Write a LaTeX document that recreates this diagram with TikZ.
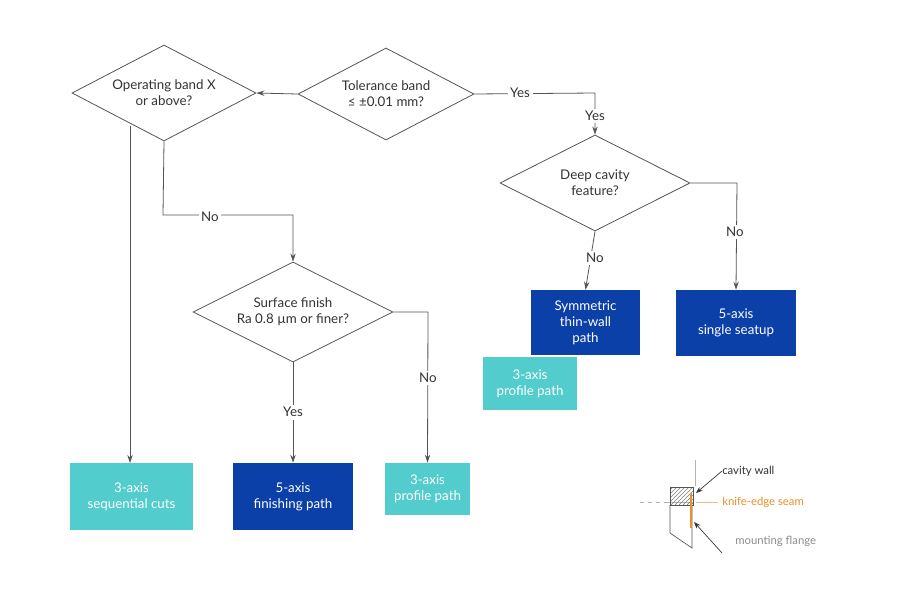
\documentclass[tikz,border=0pt]{standalone}
\usepackage{fontspec}
\setmainfont{Lato}
\usetikzlibrary{shapes.geometric,arrows.meta,patterns}
\definecolor{dk}{HTML}{0B40A8}
\definecolor{tl}{HTML}{52CCCC}
\definecolor{ln}{HTML}{555555}
\definecolor{org}{HTML}{E8902A}
\begin{document}
\begin{tikzpicture}[x=0.75pt,y=-0.75pt,
 dec/.style 2 args={draw=ln,line width=0.6pt,fill=white,diamond,inner sep=0pt,minimum width={#1*0.75pt},minimum height={#2*0.75pt},font=\fontsize{10}{12}\selectfont,align=center,text=black!80},
 bx/.style 2 args={draw=none,minimum width={#1*0.75pt},minimum height={#2*0.75pt},align=center,font=\fontsize{10}{12}\selectfont,text=white,inner sep=0pt},
 ar/.style={draw=ln,line width=0.6pt,-{Stealth[length=6pt,width=4pt]}},
 lb/.style={fill=white,font=\fontsize{10}{11}\selectfont,text=black!80,inner sep=2pt}]
\fill[white] (0,0) rectangle (900,600);
\useasboundingbox (0,0) rectangle (900,600);
% diamonds
\node[dec={184}{96},aspect=1.92] (d1) at (164,93) {Operating band X\\or above?};
\node[dec={176}{92},aspect=1.91] (d2) at (386,94) {Tolerance band\\≤ ±0.01 mm?};
\node[dec={190}{96},aspect=1.98] (d3) at (595,183) {Deep cavity\\feature?};
\node[dec={200}{100},aspect=2] (d4) at (293,312) {Surface finish\\Ra 0.8 µm or finer?};
% boxes
\node[bx={123}{67},fill=tl] (b1) at (131.5,496.5) {3-axis\\sequential cuts};
\node[bx={120}{67},fill=dk] (b2) at (293,496.5) {5-axis\\finishing path};
\node[bx={85}{52},fill=tl] (b3) at (427.5,489) {3-axis\\profile path};
\node[bx={94}{53},fill=tl] (b4) at (530,383.5) {3-axis\\profile path};
\node[bx={109}{65},fill=dk] (b5) at (585.5,322.5) {Symmetric\\thin-wall\\path};
\node[bx={120}{66},fill=dk] (b6) at (736,323) {5-axis\\single seatup};
% connectors
\draw[ar] (d2.west) -- (d1.east);
\draw[ar] (d2.east) -- (595,93) -- (d3.north);
\node[lb] at (520,93) {Yes};
\node[lb] at (595,116) {Yes};
\draw[ar] (d3.south) -- (b5.north);
\node[lb] at (595,258) {No};
\draw[ar] (d3.east) -- (737,183) -- (b6.north);
\node[lb] at (735,232) {No};
\coordinate (c1) at (130,126);
\draw[ar] (c1) -- (130,463);
\draw[ar] (d1.south) -- (163,215) -- (293,215) -- (d4.north);
\node[lb] at (210,217) {No};
\draw[ar] (d4.south) -- (b2.north);
\node[lb] at (293,412) {Yes};
\draw[ar] (d4.east) -- (428,312) -- (b3.north);
\node[lb] at (428,378) {No};
% inset
\draw[gray!60,line width=0.4pt] (695,460) -- (695,486);
\draw[gray!60,line width=0.4pt,dash pattern=on 3pt off 3pt] (640,502) -- (668,502);
\draw[gray!60,line width=0.4pt] (668,502) -- (693,502);
\draw[org!60,line width=0.6pt] (696,502) -- (718,502);
\draw[ln,line width=0.5pt,pattern=north east lines,pattern color=gray] (670,487) rectangle (693,505);
\draw[ln,line width=0.5pt] (670,505) -- (670,533) -- (692,548) -- (692,505);
\draw[org,line width=1.6pt] (691,493) -- (691,528);
\node[font=\fontsize{8.5}{10}\selectfont,anchor=west,text=black!80,inner sep=0] (cw) at (722,471) {cavity wall};
\node[font=\fontsize{8.5}{10}\selectfont,anchor=west,text=org,inner sep=0] (ks) at (722,502) {knife-edge seam};
\node[font=\fontsize{8.5}{10}\selectfont,anchor=west,text=black!45,inner sep=0] (mf) at (735,541) {mounting flange};
\draw[-{Stealth[length=5pt]},black!80,line width=0.5pt] (cw.west) -- (696,493);
\draw[-{Stealth[length=5pt]},black!80,line width=0.5pt] (722,553) -- (694,522);
\end{tikzpicture}
\end{document}
